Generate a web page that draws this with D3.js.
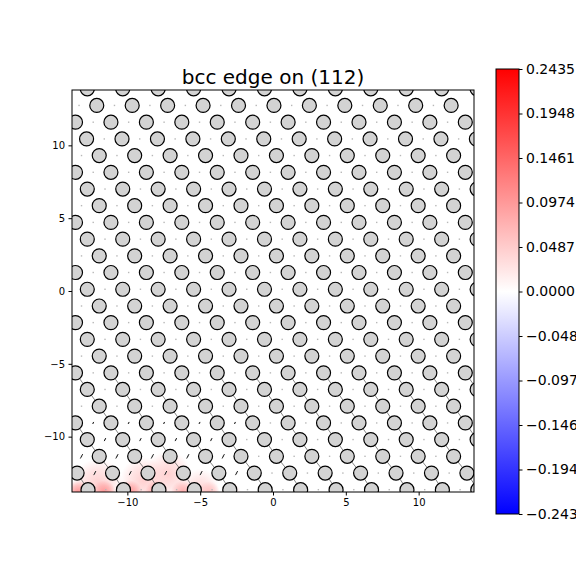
<!DOCTYPE html>
<html>
<head>
<style>
  body { margin: 0; background: #fff; }
  svg text { font-family: "DejaVu Sans", sans-serif; fill: #000; }
</style>
<script src="https://cdn.jsdelivr.net/npm/d3@7/dist/d3.min.js"></script>
</head>
<body>
<svg width="576" height="576"></svg>
<script>
// atom rows (top to bottom): y of each row and x of first atom, in Angstrom
var rowY  = [13.88, 12.74, 11.59, 10.44, 9.30, 8.15, 7.00, 5.86, 4.71, 3.56, 2.41, 1.27, 0.12,
             -1.03, -2.17, -3.32, -4.47, -5.62, -6.76, -7.91, -9.06, -10.20, -11.35, -12.50, -13.64];
var rowX0 = [-12.75, -12.10, -13.56, -12.80, -11.93, -13.56, -12.75, -11.93, -13.56, -12.75, -11.93, -13.56, -12.75,
             -11.93, -13.56, -12.75, -11.93, -13.56, -12.75, -11.93, -13.56, -12.75, -11.93, -13.45, -12.70];
var spacing = 2.433;   // |b| along x

// differential displacement arrows between diagonal neighbours (fraction of bond drawn), by upper row index
var diagRows = [17, 18, 19, 20, 21, 22, 23];
var diagFrac = [0.25, 0.45, 0.7, 0.8, 0.9, 1.0, 1.0];

// small arrows on x-bonds near the core, by row index
var arrowRows = [20, 21, 22, 23];
var arrowLen  = [1.2, 1.8, 2.6, 2.4];

// colour field near the core: x, y, value, radius
var fieldX = [-12.0, -8.9, -7.2, -5.0, -13.4, -11.6, -9.8, -8.0, -6.2, -4.4, -2.9];
var fieldY = [-13.2, -13.0, -12.6, -13.5, -13.8, -13.8, -13.8, -13.8, -13.8, -13.8, -13.8];
var fieldV = [0.045, 0.045, 0.045, 0.035, 0.1, 0.1, 0.1, 0.09, 0.08, 0.06, 0.03];
var fieldR = [1.7, 1.6, 1.6, 1.3, 0.8, 0.8, 0.8, 0.8, 0.8, 0.75, 0.7];

var xTicks = [-10, -5, 0, 5, 10];
var yTicks = [-10, -5, 0, 5, 10];
var cbTicks = [-0.2435, -0.1948, -0.1461, -0.0974, -0.0487, 0, 0.0487, 0.0974, 0.1461, 0.1948, 0.2435];
var vmax = 0.2435;
var title = "bcc edge on (112)";

var svg = d3.select("svg");
var axL = 72, axR = 474, axT = 90, axB = 492;
var x = d3.scaleLinear().domain([-13.8, 13.8]).range([axL, axR]);
var y = d3.scaleLinear().domain([-13.8, 13.8]).range([axB, axT]);
var bwr = d3.scaleLinear().domain([-vmax, 0, vmax]).range(["#0000ff", "#ffffff", "#ff0000"]);

var defs = svg.append("defs");
defs.append("clipPath").attr("id", "clip")
  .append("rect").attr("x", axL).attr("y", axT).attr("width", axR - axL).attr("height", axB - axT);

// atoms
var atoms = rowY.map(function(yy, i) {
  var row = [];
  for (var xx = rowX0[i]; xx < 14.4; xx += spacing) row.push({x: xx, y: yy, row: i});
  return row;
});

var plot = svg.append("g").attr("clip-path", "url(#clip)");

// colour field
fieldX.forEach(function(fx, i) {
  var gid = "f" + i;
  var grad = defs.append("radialGradient").attr("id", gid);
  grad.append("stop").attr("offset", "0%").attr("stop-color", bwr(fieldV[i])).attr("stop-opacity", 1);
  grad.append("stop").attr("offset", "55%").attr("stop-color", bwr(fieldV[i])).attr("stop-opacity", 0.55);
  grad.append("stop").attr("offset", "100%").attr("stop-color", bwr(fieldV[i])).attr("stop-opacity", 0);
  plot.append("circle")
    .attr("cx", x(fx)).attr("cy", y(fieldY[i]))
    .attr("r", x(fieldR[i]) - x(0))
    .attr("fill", "url(#" + gid + ")");
});

// midpoint dots on x-bonds
atoms.forEach(function(row) {
  row.forEach(function(a) {
    plot.append("rect")
      .attr("x", x(a.x - spacing / 2) - 0.7).attr("y", y(a.y) - 0.7)
      .attr("width", 1.4).attr("height", 1.4)
      .attr("fill", "#b8b8b8");
  });
});

// diagonal bond arrows
diagRows.forEach(function(ri, j) {
  var upper = atoms[ri], lower = atoms[ri + 1];
  upper.forEach(function(a) {
    var best = null, bd = 1e9;
    lower.forEach(function(b) {
      var d = Math.abs(b.x - a.x - spacing / 3);
      if (d < bd) { bd = d; best = b; }
    });
    if (!best || bd > 0.5) return;
    var mx = (a.x + best.x) / 2, my = (a.y + best.y) / 2;
    var f = diagFrac[j] / 2;
    plot.append("line")
      .attr("x1", x(mx - (best.x - a.x) * f)).attr("y1", y(my - (best.y - a.y) * f))
      .attr("x2", x(mx + (best.x - a.x) * f)).attr("y2", y(my + (best.y - a.y) * f))
      .attr("stroke", "#666").attr("stroke-width", 0.8);
  });
});

// small arrows near the core
arrowRows.forEach(function(ri, j) {
  atoms[ri].forEach(function(a) {
    var mx = a.x - spacing / 2;
    if (mx > -2.5) return;
    var L = arrowLen[j];
    plot.append("line")
      .attr("x1", x(mx) - L * 0.45).attr("y1", y(a.y) + L * 0.85)
      .attr("x2", x(mx) + L * 0.45).attr("y2", y(a.y) - L * 0.85)
      .attr("stroke", "#222").attr("stroke-width", 1);
  });
});

// atom circles
plot.selectAll("circle.atom")
  .data(atoms.flat())
  .enter().append("circle")
  .attr("class", "atom")
  .attr("cx", function(d) { return x(d.x); })
  .attr("cy", function(d) { return y(d.y); })
  .attr("r", 7)
  .attr("fill", "#d3d3d3")
  .attr("stroke", "#000")
  .attr("stroke-width", 1.2);

// axes
var fmt = function(d) { return d < 0 ? "\u2212" + Math.abs(d) : d; };
var xAxis = d3.axisBottom(x).tickValues(xTicks).tickSize(3.5).tickPadding(3.5).tickFormat(fmt);
var yAxis = d3.axisLeft(y).tickValues(yTicks).tickSize(3.5).tickPadding(3.5).tickFormat(fmt);

svg.append("g").attr("transform", "translate(0," + axB + ")").call(xAxis)
  .call(function(g) { g.select(".domain").remove(); })
  .selectAll("text").attr("font-size", 10).attr("font-family", "DejaVu Sans");
svg.append("g").attr("transform", "translate(" + axL + ",0)").call(yAxis)
  .call(function(g) { g.select(".domain").remove(); })
  .selectAll("text").attr("font-size", 10).attr("font-family", "DejaVu Sans");

svg.append("rect")
  .attr("x", axL).attr("y", axT).attr("width", axR - axL).attr("height", axB - axT)
  .attr("fill", "none").attr("stroke", "#000").attr("stroke-width", 1);

svg.append("text")
  .attr("x", (axL + axR) / 2).attr("y", 84)
  .attr("text-anchor", "middle")
  .attr("font-size", 20)
  .text(title);

// colour bar
var cbL = 496, cbW = 23, cbT = 69, cbB = 514;
var cy = d3.scaleLinear().domain([-vmax, vmax]).range([cbB, cbT]);
var cg = defs.append("linearGradient").attr("id", "cb")
  .attr("x1", 0).attr("y1", 1).attr("x2", 0).attr("y2", 0);
d3.range(0, 1.0001, 0.05).forEach(function(t) {
  cg.append("stop").attr("offset", (t * 100) + "%").attr("stop-color", bwr(-vmax + 2 * vmax * t));
});
svg.append("rect")
  .attr("x", cbL).attr("y", cbT).attr("width", cbW).attr("height", cbB - cbT)
  .attr("fill", "url(#cb)").attr("stroke", "#000").attr("stroke-width", 1);

var cbAxis = d3.axisRight(cy).tickValues(cbTicks).tickSize(3.5).tickPadding(3.5)
  .tickFormat(function(d) { var s = Math.abs(d).toFixed(4); return d < -1e-9 ? "\u2212" + s : s; });
svg.append("g").attr("transform", "translate(" + (cbL + cbW) + ",0)").call(cbAxis)
  .call(function(g) { g.select(".domain").remove(); })
  .selectAll("text").attr("font-size", 14).attr("font-family", "DejaVu Sans");
</script>
</body>
</html>
